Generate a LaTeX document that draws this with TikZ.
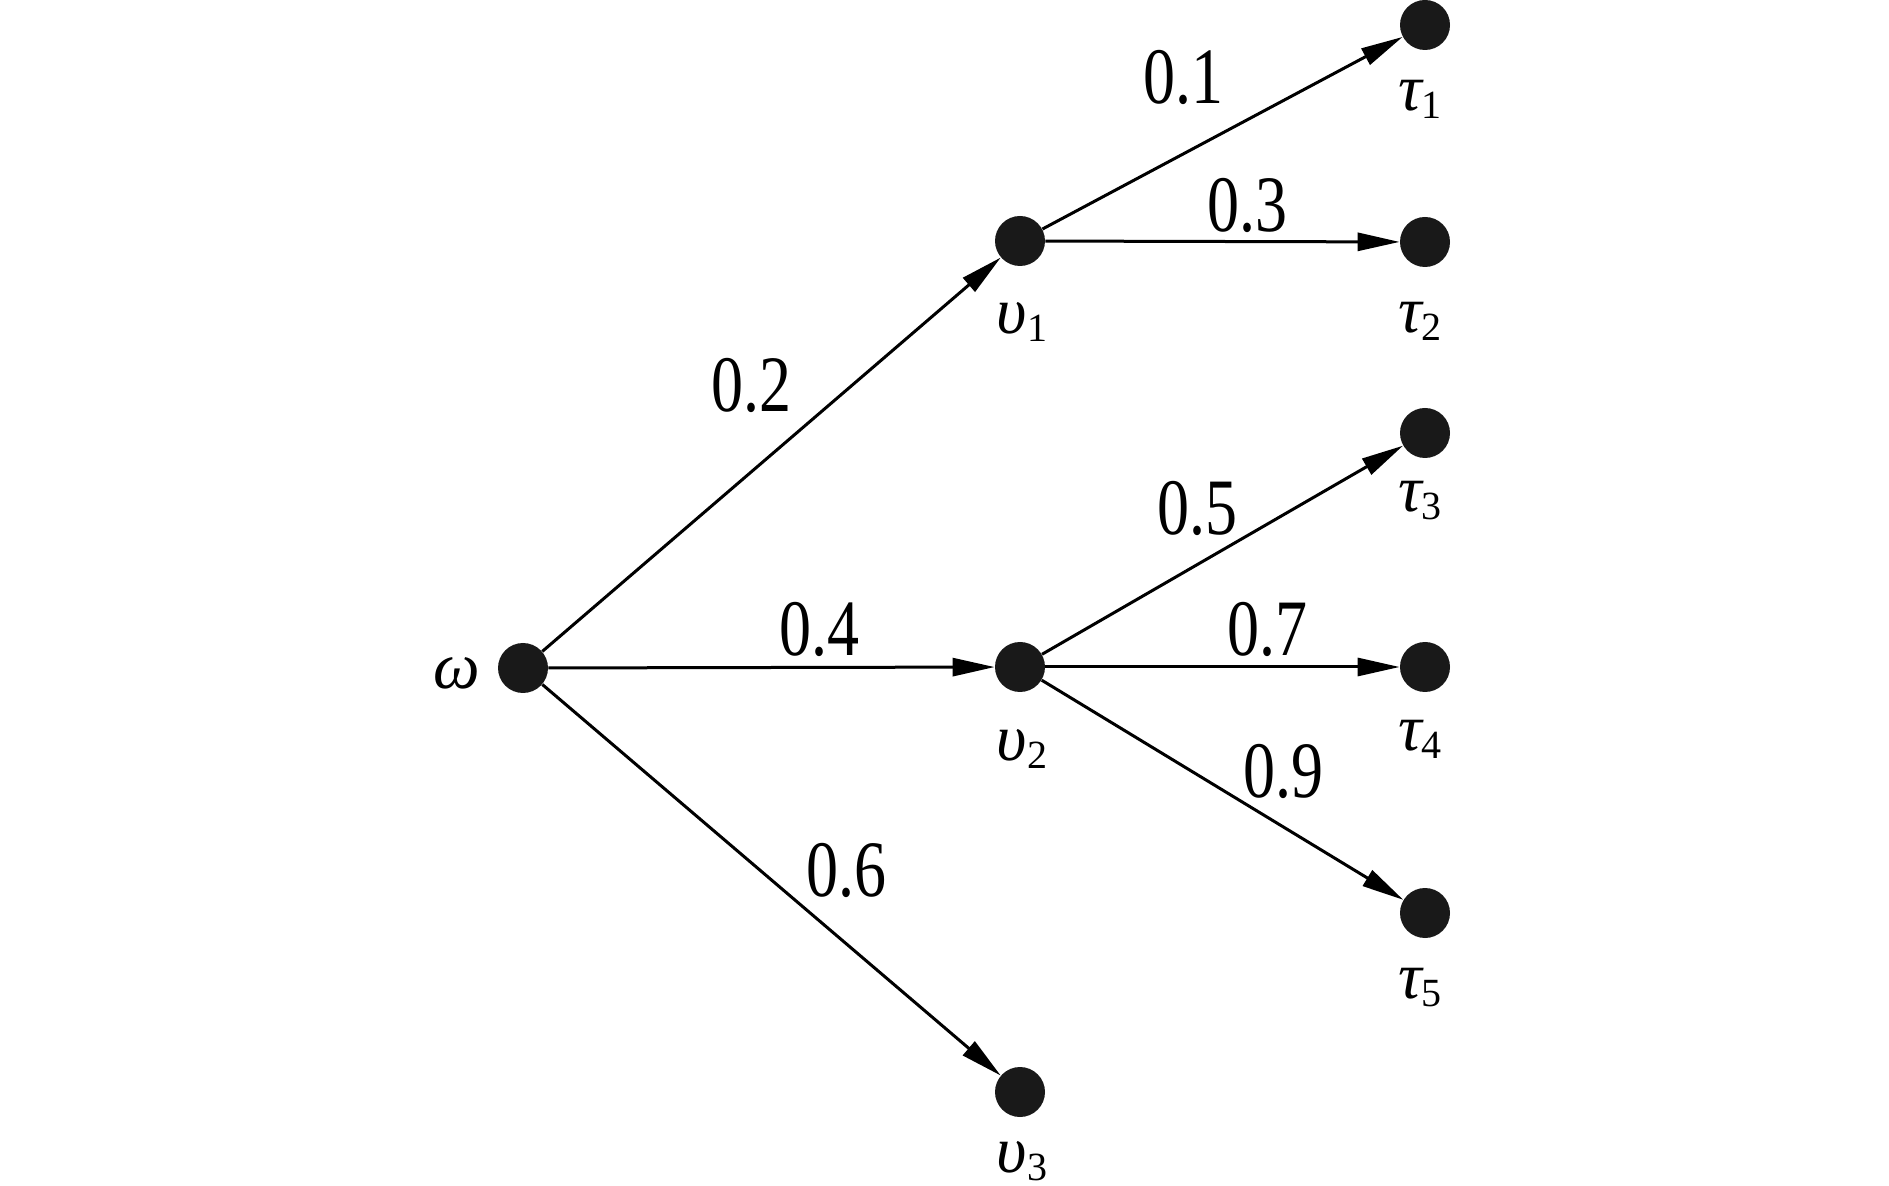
\documentclass[tikz,border=0pt]{standalone}
\usepackage{fontspec}
\setmainfont{Liberation Serif}
\usetikzlibrary{arrows.meta}
\newcommand{\glab}[2]{{\fontsize{33}{33}\selectfont\itshape #1}\raisebox{-0.4em}{\fontsize{20}{20}\selectfont #2}}
\newcommand{\elab}[1]{\scalebox{0.8}[1]{\fontsize{40}{40}\selectfont #1}}
\begin{document}
\begin{tikzpicture}[x=0.5pt,y=-0.5pt,
  dot/.style={circle,fill=black!90,draw=none,minimum size=25pt,inner sep=0pt},
  arr/.style={line width=1.5pt,-{Triangle[length=21pt,width=9pt]}},
  txt/.style={inner sep=0pt,anchor=center}]
\useasboundingbox (0,0) rectangle (1889,1186);
\node[dot] (w) at (523,668) {};
\node[dot] (v1) at (1020,241) {};
\node[dot] (v2) at (1020,667) {};
\node[dot] (v3) at (1020,1092) {};
\node[dot] (t1) at (1425,25) {};
\node[dot] (t2) at (1425,242) {};
\node[dot] (t3) at (1425,433) {};
\node[dot] (t4) at (1425,667) {};
\node[dot] (t5) at (1425,913) {};
\draw[arr] (w) -- (v1);
\draw[arr] (w) -- (v2);
\draw[arr] (w) -- (v3);
\draw[arr] (v1) -- (t1);
\draw[arr] (v1) -- (t2);
\draw[arr] (v2) -- (t3);
\draw[arr] (v2) -- (t4);
\draw[arr] (v2) -- (t5);
\node[txt] (lw) at (457,673) {\fontsize{33}{33}\selectfont\itshape ω};
\node[txt] (lv1) at (1022,322) {\glab{υ}{1}};
\node[txt] (lv2) at (1022,749) {\glab{υ}{2}};
\node[txt] (lv3) at (1022,1161) {\glab{υ}{3}};
\node[txt] (lt1) at (1420,99) {\glab{τ}{1}};
\node[txt] (lt2) at (1420,321) {\glab{τ}{2}};
\node[txt] (lt3) at (1420,501) {\glab{τ}{3}};
\node[txt] (lt4) at (1420,739) {\glab{τ}{4}};
\node[txt] (lt5) at (1420,988) {\glab{τ}{5}};
\node[txt] (e1) at (1183,77) {\elab{0.1}};
\node[txt] (e3) at (1247,205) {\elab{0.3}};
\node[txt] (e2) at (751,385) {\elab{0.2}};
\node[txt] (e5) at (1197,508) {\elab{0.5}};
\node[txt] (e4) at (819,629) {\elab{0.4}};
\node[txt] (e7) at (1267,629) {\elab{0.7}};
\node[txt] (e9) at (1283,771) {\elab{0.9}};
\node[txt] (e6) at (846,870) {\elab{0.6}};
\end{tikzpicture}
\end{document}
